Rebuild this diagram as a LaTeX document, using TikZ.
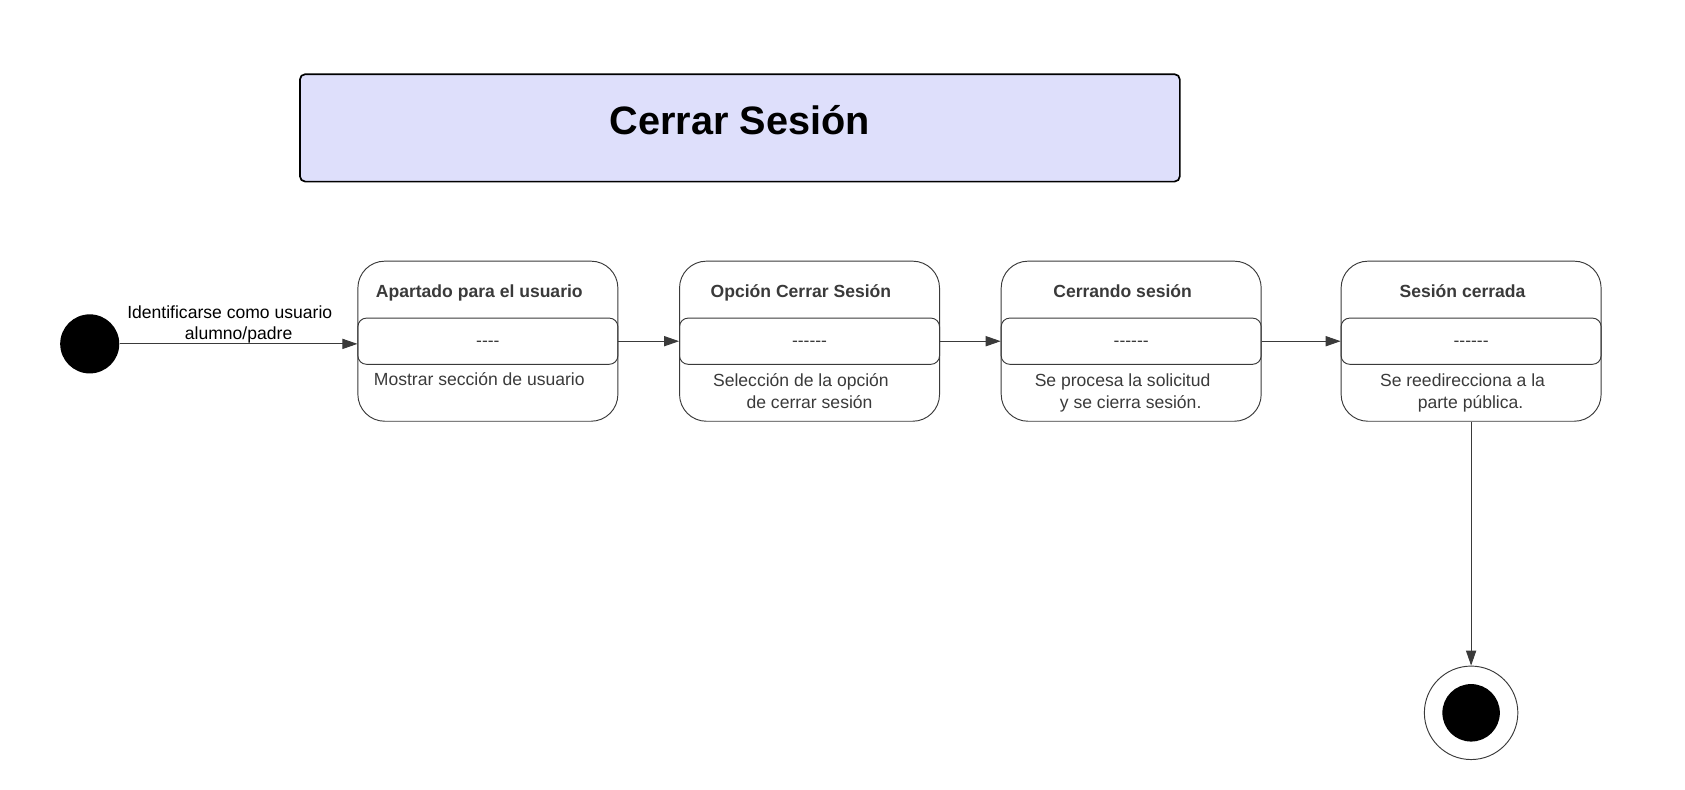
\documentclass[tikz,border=0pt]{standalone}
\usepackage{fontspec}
\setmainfont{Liberation Sans}
\newfontfamily\sinlig{Liberation Sans}
\usetikzlibrary{positioning,arrows.meta}
\definecolor{gris}{HTML}{3A3A3A}
\definecolor{lila}{HTML}{DEDFFB}
\tikzset{
  titulo/.style={draw=black, line width=0.9pt, fill=lila, rounded corners=0.1cm,
    minimum width=16.38cm, minimum height=2cm, text height=10pt, text depth=3.5pt,
    font=\bfseries\fontsize{21}{25}\selectfont},
  estado/.style={draw=gris, line width=0.5pt, rounded corners=0.5cm,
    minimum width=4.84cm, minimum height=2.98cm, inner sep=0pt},
  compart/.style={draw=gris, line width=0.5pt, rounded corners=0.16cm,
    minimum width=4.84cm, minimum height=0.86cm, text=gris,
    text height=0.54em, text depth=0pt,
    font=\sinlig\fontsize{9.3}{11.4}\selectfont},
  nombre/.style={anchor=base, text=gris, inner sep=0pt, font=\bfseries\fontsize{9.3}{11.4}\selectfont},
  accion/.style={anchor=base, text=gris, inner sep=0pt, align=center, font=\fontsize{9.3}{11.4}\selectfont},
  etiqueta/.style={anchor=south, inner sep=0pt, align=center, font=\fontsize{9.3}{11.4}\selectfont},
  inicio/.style={circle, fill=black, minimum size=1.1cm, inner sep=0pt},
  final/.style={circle, draw=gris, line width=0.5pt, minimum size=1.74cm, inner sep=0pt,
    path picture={\fill[black] (path picture bounding box.center) circle (0.535cm);}},
  trans/.style={draw=gris, line width=0.5pt, -{Triangle[length=0.28cm,width=0.19cm]}},
}
\begin{document}
\begin{tikzpicture}[x=0.02cm, y=-0.02cm, node distance=1.13cm]
  \useasboundingbox (0,0) rectangle (1568,735);

  \node[titulo] (tit) at (688.5,119) {Cerrar Sesión};

  % estados
  \node[inicio] (ini) at (83.5,320) {};
  \node[estado] (s1) at (454,317.5) {};
  \node[estado, right=of s1] (s2) {};
  \node[estado, right=of s2] (s3) {};
  \node[estado, right=1.47cm of s3] (s4) {};
  \node[final, below=4.54cm of s4] (fin) {};

  \node[compart] (s1c) at (s1) {----};
  \node[compart] (s2c) at (s2) {------};
  \node[compart] (s3c) at (s3) {------};
  \node[compart] (s4c) at (s4) {------};

  \node[nombre] (s1n) at ([xshift=-0.16cm,yshift=0.81cm]s1.center) {Apartado para el usuario};
  \node[nombre] (s2n) at ([xshift=-0.16cm,yshift=0.81cm]s2.center) {Opción Cerrar Sesión};
  \node[nombre] (s3n) at ([xshift=-0.16cm,yshift=0.81cm]s3.center) {Cerrando sesión};
  \node[nombre] (s4n) at ([xshift=-0.16cm,yshift=0.81cm]s4.center) {Sesión cerrada};

  \node[accion] (s1a) at ([xshift=-0.16cm,yshift=-0.82cm]s1.center) {Mostrar sección de usuario};
  \node[accion] (s2a) at ([xshift=-0.16cm,yshift=-1.25cm]s2.center)
    {Selección de la opción\\\hspace*{0.32cm}de cerrar sesión};
  \node[accion] (s3a) at ([xshift=-0.16cm,yshift=-1.25cm]s3.center)
    {Se procesa la solicitud\\\hspace*{0.3cm}y se cierra sesión.};
  \node[accion] (s4a) at ([xshift=-0.16cm,yshift=-1.25cm]s4.center)
    {Se reedirecciona a la\\\hspace*{0.3cm}parte pública.};

  % transiciones
  \draw[trans] (ini) -- node[etiqueta, pos=0.463]
    {Identificarse como usuario\\\hspace*{0.33cm}alumno/padre} (ini -| s1.west);
  \draw[trans] (s1) -- (s2);
  \draw[trans] (s2) -- (s3);
  \draw[trans] (s3) -- (s4);
  \draw[trans] (s4) -- (fin);
\end{tikzpicture}
\end{document}
